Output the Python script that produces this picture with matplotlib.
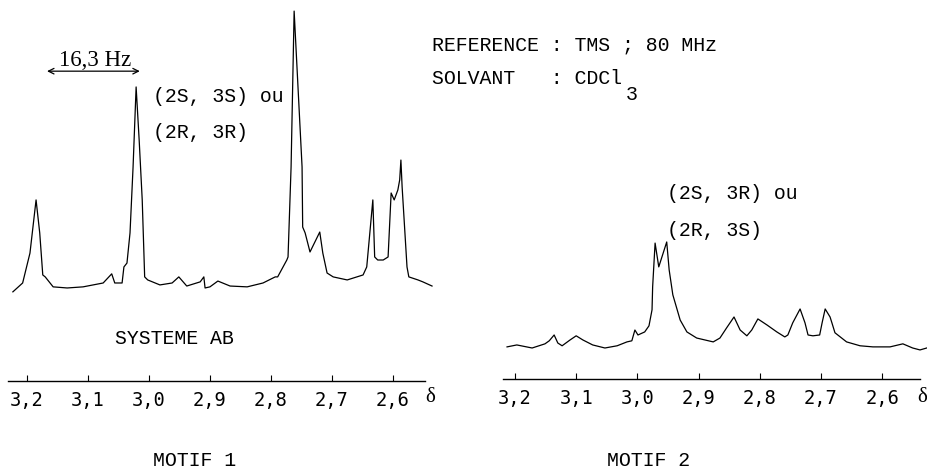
"""Two 80 MHz 1H NMR traces (MOTIF 1 / MOTIF 2), typewriter style."""

import matplotlib.pyplot as plt

W, H = 927, 469

# chemical shift axis
tick_ppm = [3.2, 3.1, 3.0, 2.9, 2.8, 2.7, 2.6]
tick_labels = ["3,2", "3,1", "3,0", "2,9", "2,8", "2,7", "2,6"]

# MOTIF 1 trace (ppm, relative intensity)
motif1_ppm = [
    3.223, 3.207, 3.195, 3.185, 3.179, 3.174, 3.170, 3.157, 3.134, 3.108,
    3.075, 3.061, 3.056, 3.044, 3.041, 3.036, 3.031, 3.026, 3.021, 3.016,
    3.011, 3.007, 3.002, 2.982, 2.962, 2.951, 2.938, 2.916, 2.910, 2.908,
    2.900, 2.887, 2.867, 2.839, 2.813, 2.793, 2.789, 2.774, 2.772, 2.767,
    2.762, 2.756, 2.749, 2.748, 2.744, 2.736, 2.720, 2.715, 2.708, 2.698,
    2.675, 2.649, 2.643, 2.633, 2.630, 2.625, 2.616, 2.608, 2.603, 2.598,
    2.592, 2.589, 2.587, 2.585, 2.577, 2.574, 2.559, 2.551, 2.536,
]
motif1_int = [
    -1.4, 1.8, 12.6, 31.8, 19.9, 4.7, 4.0, 0.4, 0.0, 0.4,
    1.8, 5.1, 1.8, 1.8, 7.6, 9.0, 19.9, 43.7, 72.6, 53.4,
    31.8, 4.0, 2.9, 1.1, 1.8, 4.0, 0.7, 2.2, 4.0, 0.0,
    0.4, 2.5, 0.7, 0.4, 1.8, 4.0, 4.0, 10.1, 11.2, 43.7,
    100.0, 74.0, 43.7, 22.0, 19.9, 13.0, 20.2, 12.6, 5.4, 4.0,
    2.9, 4.7, 7.6, 31.8, 11.2, 10.1, 10.1, 11.2, 34.3, 31.8,
    35.4, 39.0, 46.2, 36.5, 7.6, 4.0, 2.9, 2.2, 0.7,
]

# MOTIF 2 trace (ppm, relative intensity)
motif2_ppm = [
    3.213, 3.197, 3.172, 3.151, 3.144, 3.136, 3.130, 3.123, 3.110, 3.100,
    3.089, 3.073, 3.053, 3.033, 3.017, 3.009, 3.004, 2.999, 2.988, 2.981,
    2.976, 2.975, 2.971, 2.965, 2.952, 2.948, 2.942, 2.930, 2.919, 2.903,
    2.876, 2.865, 2.854, 2.842, 2.832, 2.821, 2.813, 2.803, 2.788, 2.772,
    2.759, 2.754, 2.746, 2.734, 2.726, 2.721, 2.713, 2.702, 2.698, 2.693,
    2.685, 2.682, 2.677, 2.658, 2.636, 2.615, 2.587, 2.566, 2.550, 2.538,
    2.527,
]
motif2_int = [
    0.0, 0.7, -0.4, 1.1, 2.2, 4.3, 1.4, 0.4, 2.5, 4.0,
    2.5, 0.7, -0.4, 0.4, 1.8, 2.2, 6.1, 4.3, 5.4, 7.6,
    13.4, 21.7, 37.5, 28.9, 37.9, 27.8, 18.8, 9.7, 5.4, 3.2,
    1.8, 3.2, 6.9, 10.8, 6.1, 4.0, 6.1, 10.1, 7.9, 5.4,
    3.6, 4.3, 8.7, 13.7, 8.7, 4.3, 4.0, 4.3, 8.7, 13.7,
    10.8, 8.7, 5.1, 1.8, 0.4, 0.0, 0.0, 1.1, -0.4, -1.1,
    -0.4,
]

MONO = "Liberation Mono"
SERIF = "Liberation Serif"
TXT = 14.3


def fx(x):
    return x / W


def fy(y):
    return 1 - y / H


def spectrum_axes(fig, left, right, spine_y, top_y, xlim, ylim):
    ax = fig.add_axes([fx(left), fy(spine_y), fx(right) - fx(left), fy(top_y) - fy(spine_y)])
    ax.set_xlim(*xlim)
    ax.set_ylim(*ylim)
    for side in ("top", "left", "right"):
        ax.spines[side].set_visible(False)
    ax.spines["bottom"].set_linewidth(1.0)
    ax.set_yticks([])
    ax.set_xticks(tick_ppm)
    ax.set_xticklabels(tick_labels, fontfamily="DejaVu Sans Mono", fontsize=13.5)
    ax.tick_params(axis="x", direction="in", length=4, width=0.8, pad=7)
    ax.patch.set_alpha(0)
    return ax


fig = plt.figure(figsize=(W / 100, H / 100), dpi=100)

ax1 = spectrum_axes(fig, 8, 425, 381, 5, (3.231, 2.5475), (-33.6, 102.2))
ax1.plot(motif1_ppm, motif1_int, color="black", lw=0.9, clip_on=False)
ax1.annotate("", xy=(3.167, 78.3), xytext=(3.015, 78.3),
             arrowprops=dict(arrowstyle="<->", color="black", lw=0.9,
                             shrinkA=0, shrinkB=0))

ax2 = spectrum_axes(fig, 503, 920, 379, 5, (3.2196, 2.538), (-11.6, 123.5))
ax2.plot(motif2_ppm, motif2_int, color="black", lw=0.9, clip_on=False)

fig.text(fx(95), fy(60), "16,3 Hz", family=SERIF, fontsize=16.5, ha="center", va="center")
fig.text(fx(153), fy(97), "(2S, 3S) ou", family=MONO, fontsize=TXT, va="center")
fig.text(fx(153), fy(132), "(2R, 3R)", family=MONO, fontsize=TXT, va="center")
fig.text(fx(432), fy(45), "REFERENCE : TMS ; 80 MHz", family=MONO, fontsize=TXT, va="center")
fig.text(fx(432), fy(78), "SOLVANT   : CDCl", family=MONO, fontsize=TXT, va="center")
fig.text(fx(626), fy(94), "3", family=MONO, fontsize=TXT, va="center")
fig.text(fx(667), fy(193), "(2S, 3R) ou", family=MONO, fontsize=TXT, va="center")
fig.text(fx(667), fy(230), "(2R, 3S)", family=MONO, fontsize=TXT, va="center")
fig.text(fx(115), fy(338), "SYSTEME AB", family=MONO, fontsize=TXT, va="center")
fig.text(fx(153), fy(460), "MOTIF 1", family=MONO, fontsize=TXT, va="center")
fig.text(fx(607), fy(460), "MOTIF 2", family=MONO, fontsize=TXT, va="center")
fig.text(fx(430), fy(398), "δ", family=SERIF, fontsize=15, ha="center", va="center")
fig.text(fx(922), fy(398), "δ", family=SERIF, fontsize=15, ha="center", va="center")

fig.savefig("out.png", dpi=100)
